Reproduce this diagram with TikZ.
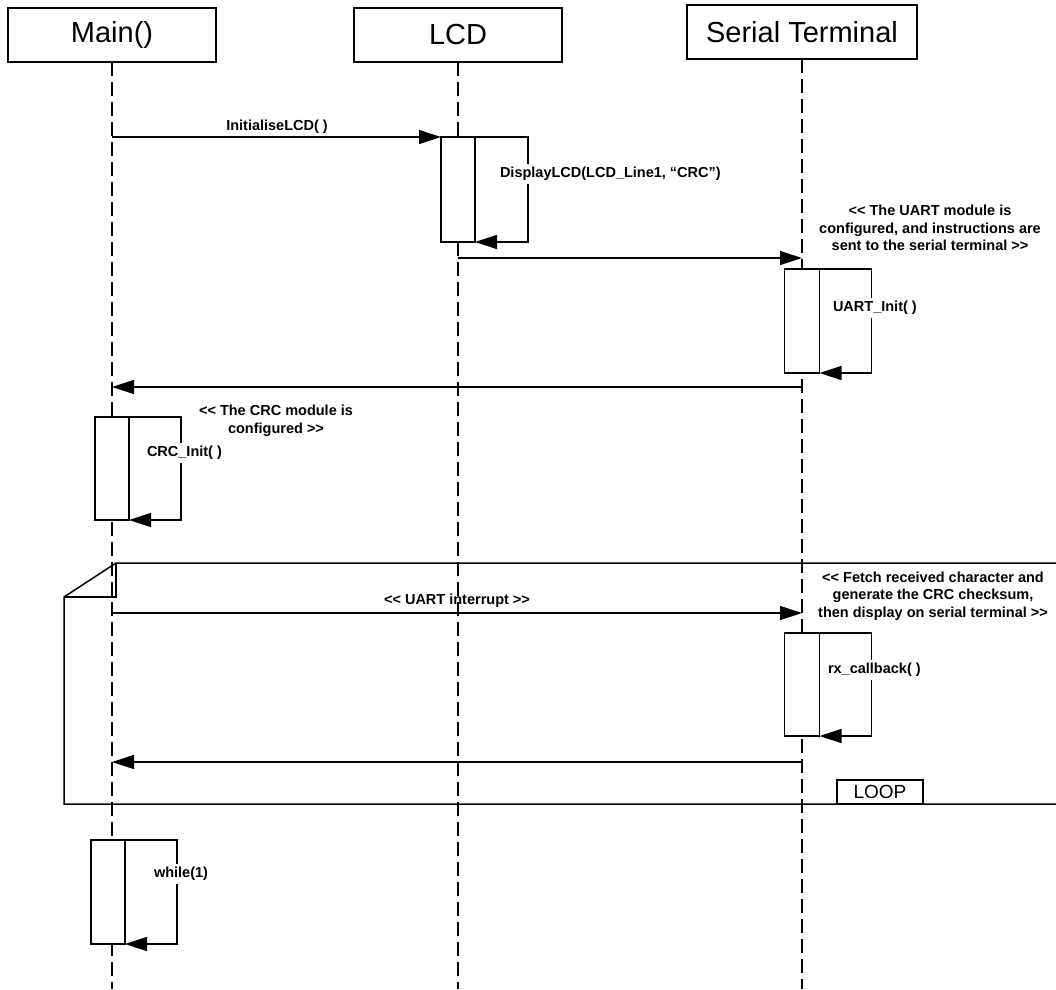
\documentclass[tikz,border=0pt]{standalone}
\usepackage{fontspec}
\setmainfont{Liberation Sans}[Ligatures=TeXOff]
\usetikzlibrary{arrows.meta}
\begin{document}
\begin{tikzpicture}[x=1pt,y=-1pt,
 every node/.style={inner sep=0pt, outer sep=0pt},
 head/.style={draw, line width=1.3pt, minimum width=208pt, minimum height=54pt, font=\fontsize{29}{34}\selectfont},
 life/.style={line width=1.3pt, dash pattern=on 14pt off 6pt},
 act/.style={draw, fill=white, line width=1.3pt, minimum width=34pt, minimum height=104pt},
 msg/.style={line width=1.3pt, -{Triangle[length=22pt,width=14pt]}},
 lbl/.style={font=\bfseries\fontsize{14.5}{17.5}\selectfont, fill=white, inner sep=3pt, anchor=west},
 note/.style={font=\bfseries\fontsize{14.5}{17.5}\selectfont, align=center},
 loopframe/.style={line width=1.5pt},
 loopbox/.style={draw, line width=1.3pt, minimum width=86pt, minimum height=24pt, font=\fontsize{19}{22}\selectfont}
]
\useasboundingbox (0,0) rectangle (1056,989);

% headers
\node[head] (main) at (112,35) {Main()};
\node[head] (lcd) at (458,35) {LCD};
\node[head, minimum width=230pt] (ser) at (802,32) {Serial Terminal};

% lifelines
\coordinate (mainend) at (112,989);
\coordinate (lcdend) at (458,989);
\coordinate (serend) at (802,989);
\draw[life] (main.south) -- (mainend);
\draw[life] (lcd.south) -- (lcdend);
\draw[life] (ser.south) -- (serend);

% loop frame
\draw[loopframe] (1056,563) -- (116,563) -- (64,597) -- (64,804) -- (1056,804);
\draw[loopframe] (64,597) -- (116,597) -- (116,563);
\node[loopbox] (loop) at (880,792) {LOOP};

% activation boxes
\node[act, minimum height=105pt] (a1) at (458,189.5) {};
\node[act, minimum width=35pt] (a2) at (802,321) {};
\node[act, minimum height=103pt] (a3) at (112,468.5) {};
\node[act, minimum width=35pt, minimum height=103pt] (a4) at (802,684.5) {};
\node[act] (a5) at (108,892) {};

% messages
\coordinate (m1s) at (112,137);
\draw[msg] (m1s) -- (a1.north west);
\node[note] (l1) at (277,127) {InitialiseLCD( )};

\draw[msg] (a1.north east) -- ++(53,0) |- (a1.south east);
\node[lbl] (l2) at (497,174) {DisplayLCD(LCD\_Line1, “CRC”)};

\coordinate (m2s) at (458,258);
\coordinate (m2e) at (802,258);
\draw[msg] (m2s) -- (m2e);
\node[note] (n1) at (930,228) {<< The UART module is\\configured, and instructions are\\sent to the serial terminal >>};

\draw[msg] (a2.north east) -- ++(52,0) |- (a2.south east);
\node[lbl] (l3) at (830,308) {UART\_Init( )};

\coordinate (m3s) at (802,387);
\coordinate (m3e) at (112,387);
\draw[msg] (m3s) -- (m3e);
\node[note] (n2) at (276,421) {<< The CRC module is\\configured >>};

\draw[msg] (a3.north east) -- ++(52,0) |- (a3.south east);
\node[lbl] (l4) at (144,453) {CRC\_Init( )};

\coordinate (m4s) at (112,613);
\coordinate (m4e) at (802,613);
\draw[msg] (m4s) -- (m4e);
\node[note] (l5) at (457,601) {<< UART interrupt >>};
\node[note] (n3) at (933,596) {<< Fetch received character and\\generate the CRC checksum,\\then display on serial terminal >>};

\draw[msg] (a4.north east) -- ++(52,0) |- (a4.south east);
\node[lbl] (l6) at (825,670) {rx\_callback( )};

\coordinate (m5s) at (802,762);
\coordinate (m5e) at (112,762);
\draw[msg] (m5s) -- (m5e);

\draw[msg] (a5.north east) -- ++(52,0) |- (a5.south east);
\node[lbl] (l7) at (151,874) {while(1)};
\end{tikzpicture}
\end{document}
